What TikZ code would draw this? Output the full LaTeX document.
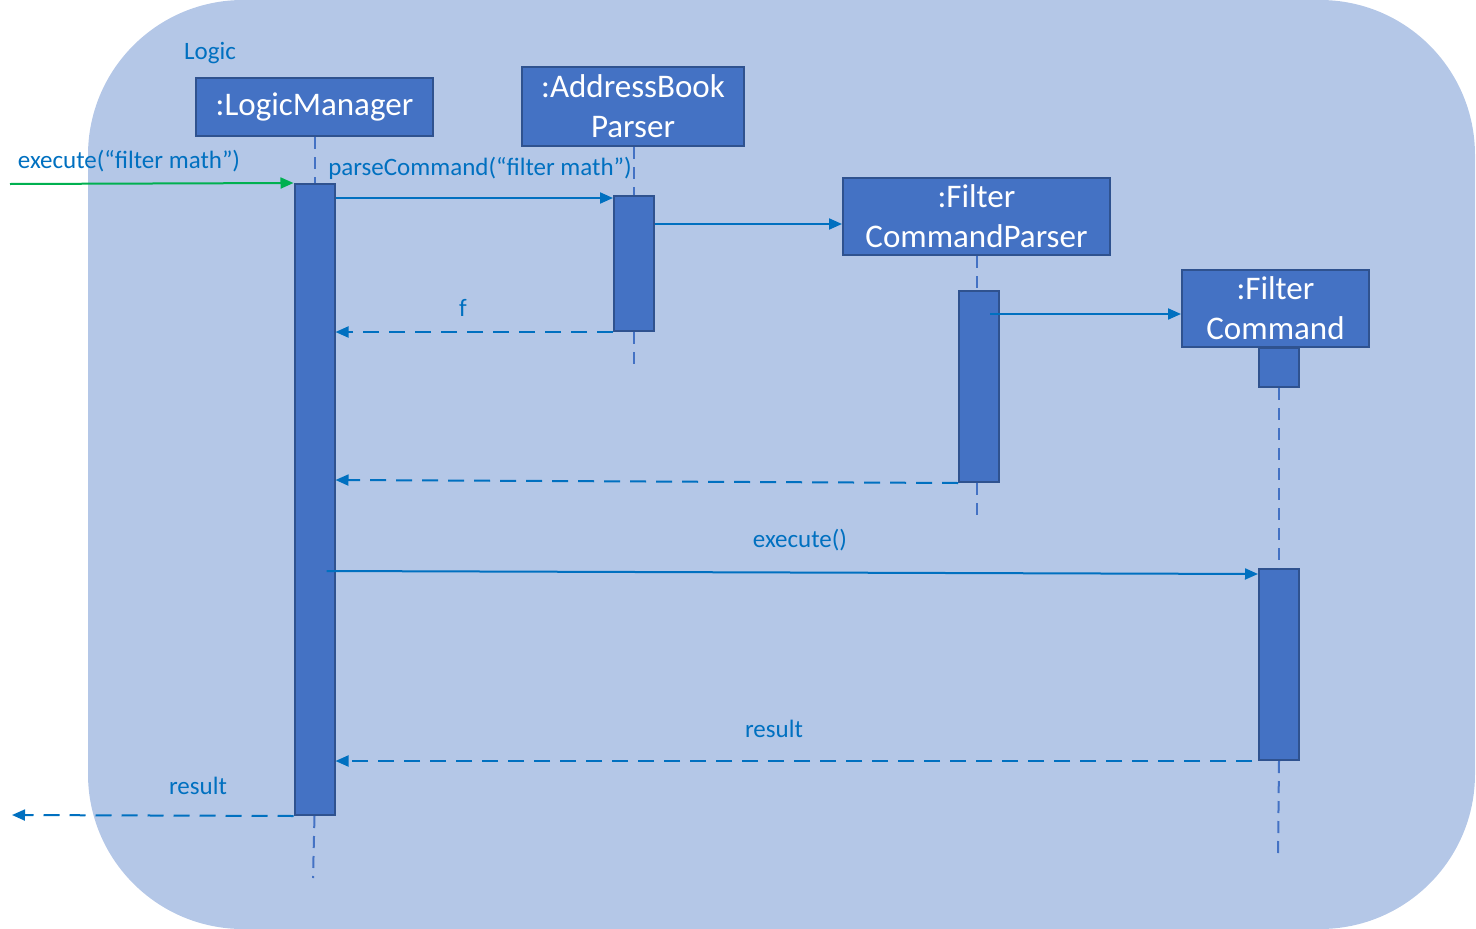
\documentclass[tikz,border=0pt]{standalone}
\usepackage{fontspec}
\setmainfont{Carlito}
\usetikzlibrary{arrows.meta,calc}
\definecolor{bgblue}{HTML}{B4C7E7}
\definecolor{boxfill}{HTML}{4472C4}
\definecolor{boxedge}{HTML}{2F528F}
\definecolor{msgblue}{HTML}{0070C0}
\definecolor{callgreen}{HTML}{00B050}
\begin{document}
\begin{tikzpicture}[x=1pt,y=-1pt,
  cls/.style={draw=boxedge, line width=2pt, fill=boxfill, text=white, inner sep=0pt, align=center,
     font=\fontsize{33}{40}\selectfont},
  act/.style={draw=boxedge, line width=2pt, fill=boxfill, minimum width=40pt, inner sep=0pt},
  lifeline/.style={draw=boxfill, line width=2pt, dash pattern=on 12pt off 8pt},
  msg/.style={draw=msgblue, line width=2pt, -{Triangle[length=13pt,width=11pt]}},
  ret/.style={draw=msgblue, line width=2pt, dash pattern=on 16pt off 10pt, -{Triangle[length=13pt,width=11pt]}},
  call/.style={draw=callgreen, line width=2pt, -{Triangle[length=13pt,width=11pt]}},
  lbl/.style={text=msgblue, inner sep=0pt, font=\fontsize{25}{30}\selectfont}]
\useasboundingbox (0,0) rectangle (1476,929);
\fill[bgblue, rounded corners=155pt] (88,0) rectangle (1475,929);

% participant boxes
\node[cls, minimum width=237pt, minimum height=58pt] (lm) at (314.5,107) {:LogicManager};
\node[cls, minimum width=222pt, minimum height=79pt] (abp) at (633,106.5) {:AddressBook\\Parser};
\node[cls, minimum width=267pt, minimum height=77pt] (fcp) at (976.5,216.5) {:Filter\\CommandParser};
\node[cls, minimum width=187pt, minimum height=77pt] (fc) at (1275.5,308.5) {:Filter\\Command};

% activation bars
\node[act, minimum height=631pt] (lmA) at (314.5,499.5) {};
\node[act, minimum height=135pt] (abpA) at (634,263.5) {};
\node[act, minimum height=191pt] (fcpA) at (979,386.5) {};
\node[act, minimum height=39pt] (fcA1) at (1279,367.5) {};
\node[act, minimum height=191pt] (fcA2) at (1279,664.5) {};

% lifelines
\coordinate (lmEnd) at (313,878);
\coordinate (abpEnd) at (634,365);
\coordinate (fcpEnd) at (977,518);
\coordinate (fcEnd) at (1278,858);
\draw[lifeline] (lm.south) -- (lmA.north);
\draw[lifeline] (lmA.south) -- (lmEnd);
\draw[lifeline] (abp.south -| abpA.north) -- (abpA.north);
\draw[lifeline] (abpA.south) -- (abpEnd);
\draw[lifeline] (fcp.south) -- (fcp.south |- fcpA.north);
\draw[lifeline] (fcpA.south -| fcpEnd) -- (fcpEnd);
\draw[lifeline] (fcA1.south) -- (fcA2.north);
\draw[lifeline] (fcA2.south) -- (fcEnd);

% messages
\coordinate (start) at (10,184);
\draw[call] (start) -- (lmA.north west);

\coordinate (abpIn) at ($(abpA.north west)+(0,3)$);
\draw[msg] (lmA.east |- abpIn) -- (abpIn);

\coordinate (fcpIn) at ($(fcp.west)+(0,7.5)$);
\draw[msg] (abpA.east |- fcpIn) -- (fcpIn);

\draw[ret] (abpA.south west) -- (lmA.east |- abpA.south);

\coordinate (fcIn) at ($(fc.west)+(0,5.5)$);
\draw[msg] ($(fcpA.center |- fcIn)+(11,0)$) -- (fcIn);

\draw[ret] (fcpA.south west) -- ($(lmA.east |- fcpA.south)+(0,-3)$);

\draw[msg] ($(lmA.center |- fcA2.north)+(12,3)$) -- ($(fcA2.north west)+(0,6)$);

\draw[ret] ($(fcA2.south west)+(-6,0)$) -- (lmA.east |- fcA2.south);

\coordinate (finish) at (12,815);
\draw[ret] (lmA.south west) -- (finish);

% labels
\node[lbl] (logic) at (210,53) {Logic};
\node[lbl] (l1) at (129,161) {execute(“filter math”)};
\node[lbl] (l2) at (480,168) {parseCommand(“filter math”)};
\node[lbl] (l3) at (463,308) {f};
\node[lbl] (l4) at (800,540) {execute()};
\node[lbl] (l5) at (774,729) {result};
\node[lbl] (l6) at (198,786) {result};
\end{tikzpicture}
\end{document}
